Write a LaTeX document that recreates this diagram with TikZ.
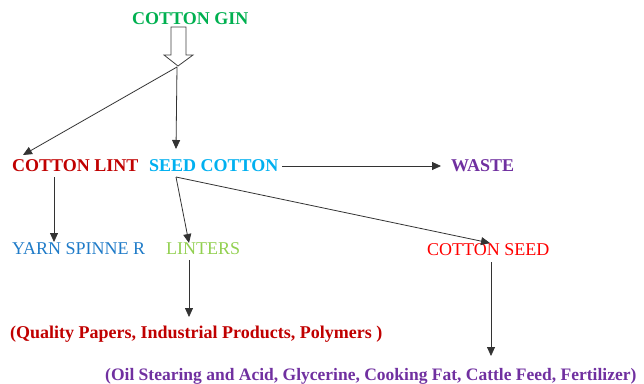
\documentclass[tikz,border=0pt]{standalone}
\usepackage{fontspec}
\setmainfont{Liberation Serif}
\newfontfamily\tnr{Liberation Serif}
\usetikzlibrary{arrows.meta}
\definecolor{gingreen}{HTML}{00B050}
\definecolor{lintred}{HTML}{C00000}
\definecolor{seedcyan}{HTML}{00B0F0}
\definecolor{wastepurple}{HTML}{7030A0}
\definecolor{yarnblue}{HTML}{1F7BC8}
\definecolor{lintersgreen}{HTML}{92D050}
\definecolor{seedred}{HTML}{FF0000}
\begin{document}
\begin{tikzpicture}[x=1pt,y=-1pt,
  lbl/.style={inner sep=0pt, anchor=base west, font=\tnr\fontsize{18}{21}\selectfont},
  blbl/.style={lbl, font=\tnr\fontsize{18}{21}\selectfont\bfseries},
  conn/.style={draw=black!80, line width=0.8pt, -{Triangle[length=9pt,width=8pt]}},
  hollow/.style={draw=black!75, line width=0.8pt, fill=white}]
\useasboundingbox (0,0) rectangle (644,383);

% texts
\node[blbl, text=gingreen] (gin) at (132,24) {COTTON GIN};
\node[blbl, text=lintred] (lint) at (12,171) {COTTON LINT};
\node[blbl, text=seedcyan] (seed) at (149,171) {SEED COTTON};
\node[blbl, text=wastepurple] (waste) at (451,171) {WASTE};
\node[lbl, text=yarnblue] (yarn) at (12,254) {YARN SPINNE R};
\node[lbl, text=lintersgreen] (linters) at (166,254) {LINTERS};
\node[lbl, text=seedred] (cseed) at (427,255) {COTTON SEED};
\node[blbl, text=lintred] (quality) at (10,338) {(Quality Papers, Industrial Products, Polymers )};
\node[blbl, text=wastepurple, font=\tnr\fontsize{17.5}{21}\selectfont\bfseries] (oil) at (105,380) {(Oil Stearing and Acid, Glycerine, Cooking Fat, Cattle Feed, Fertilizer)};

% hollow arrow below COTTON GIN
\draw[hollow] (171,27) -- (186,27) -- (186,55) -- (193,55) -- (178,66) -- (164,55) -- (171,55) -- cycle;

% coordinates for connector ends
\coordinate (hub) at (177,67);
\coordinate (linttip) at (23,155);
\coordinate (seedtip) at (176,149);
\coordinate (seedright) at (282,166);
\coordinate (wastetip) at (441,166);
\coordinate (seedbottom) at (176,177);
\coordinate (lintbottom) at (54,177);
\coordinate (yarntip) at (54,242);
\coordinate (linterstip) at (189,243);
\coordinate (cseedtip) at (490,243);
\coordinate (lintersbottom) at (189,260);
\coordinate (qualitytip) at (189,317);
\coordinate (cseedbottom) at (491,262);
\coordinate (oiltip) at (491,356);

\draw[conn] (hub) -- (linttip);
\draw[conn] (hub) -- (seedtip);
\draw[conn] (seedright) -- (wastetip);
\draw[conn] (lintbottom) -- (yarntip);
\draw[conn] (seedbottom) -- (linterstip);
\draw[conn] (seedbottom) -- (cseedtip);
\draw[conn] (lintersbottom) -- (qualitytip);
\draw[conn] (cseedbottom) -- (oiltip);
\end{tikzpicture}
\end{document}
